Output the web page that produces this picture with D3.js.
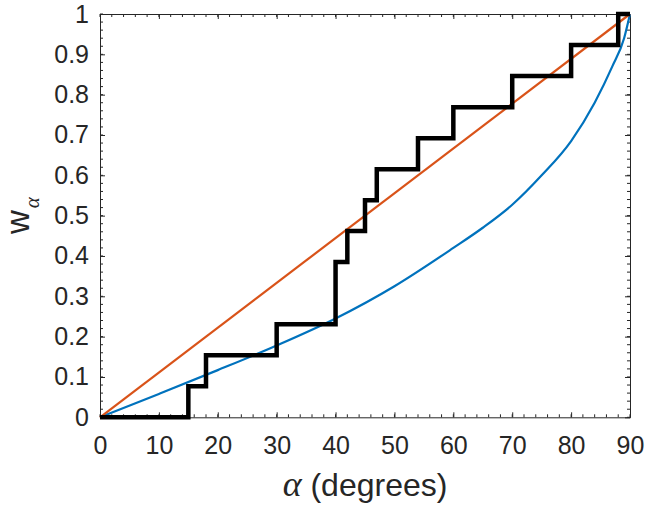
<!DOCTYPE html>
<html><head><meta charset="utf-8">
<script src="https://cdn.jsdelivr.net/npm/d3@7"></script>
<style>body{margin:0;background:#fff}svg{display:block}</style></head>
<body>
<svg id="c" width="647" height="505"></svg>
<script>
// ---- data ----
const xTicks = [0, 10, 20, 30, 40, 50, 60, 70, 80, 90];
const xTickLabels = ["0", "10", "20", "30", "40", "50", "60", "70", "80", "90"];
const yTicks = [0, 0.1, 0.2, 0.3, 0.4, 0.5, 0.6, 0.7, 0.8, 0.9, 1];
const yTickLabels = ["0", "0.1", "0.2", "0.3", "0.4", "0.5", "0.6", "0.7", "0.8", "0.9", "1"];

const blueAlpha = [0, 10, 20, 30, 40, 50, 60, 65, 70, 75, 80, 84, 87, 89, 90];
const blueW     = [0, 0.058, 0.117, 0.178, 0.245, 0.325, 0.420, 0.470, 0.527, 0.600, 0.685, 0.780, 0.870, 0.940, 1.0];

const redAlpha = [0, 90];
const redW     = [0, 1];

const stepAlpha = [0, 15, 18, 30, 40, 42, 45, 47, 54, 60, 70, 80, 88, 90];
const stepW     = [0, 0.077, 0.154, 0.231, 0.385, 0.462, 0.538, 0.615, 0.692, 0.769, 0.846, 0.923, 1.0, 1.0];

// ---- layout ----
const L = 100, R = 630, T = 14, B = 417.3;
const svg = d3.select("#c");
const x = d3.scaleLinear().domain([0, 90]).range([L, R]);
const y = d3.scaleLinear().domain([0, 1]).range([B, T]);
const axisCol = "#262626";
const font = "'Liberation Sans', Arial, Helvetica, sans-serif";
const serif = "'Liberation Serif', 'DejaVu Serif', serif";

const xMinor = d3.range(0, 91, 2);
const yMinor = d3.range(0, 51).map(i => i / 50);

function styleAxis(g) {
  g.select(".domain").attr("stroke", axisCol);
  g.selectAll(".tick line").attr("stroke", axisCol);
  g.selectAll("text").attr("fill", axisCol).style("font-family", font).style("font-size", "25px");
}
// bottom axis
svg.append("g").attr("transform", `translate(0,${B})`)
  .call(d3.axisBottom(x).tickValues(xTicks).tickFormat((d, i) => xTickLabels[i]).tickSizeInner(-5).tickSizeOuter(0).tickPadding(19))
  .call(styleAxis);
// top axis
svg.append("g").attr("transform", `translate(0,${T})`)
  .call(d3.axisTop(x).tickValues(xTicks).tickFormat("").tickSizeInner(-5).tickSizeOuter(0))
  .call(styleAxis);
// left axis
svg.append("g").attr("transform", `translate(${L},0)`)
  .call(d3.axisLeft(y).tickValues(yTicks).tickFormat((d, i) => yTickLabels[i]).tickSizeInner(-5).tickSizeOuter(0).tickPadding(11))
  .call(styleAxis);
// right axis
svg.append("g").attr("transform", `translate(${R},0)`)
  .call(d3.axisRight(y).tickValues(yTicks).tickFormat("").tickSizeInner(-5).tickSizeOuter(0))
  .call(styleAxis);

// minor ticks
const minor = svg.append("g").attr("stroke", axisCol).attr("stroke-width", 1);
xMinor.forEach(v => {
  minor.append("line").attr("x1", x(v)).attr("x2", x(v)).attr("y1", B).attr("y2", B - 3);
  minor.append("line").attr("x1", x(v)).attr("x2", x(v)).attr("y1", T).attr("y2", T + 3);
});
yMinor.forEach(v => {
  minor.append("line").attr("y1", y(v)).attr("y2", y(v)).attr("x1", L).attr("x2", L + 3);
  minor.append("line").attr("y1", y(v)).attr("y2", y(v)).attr("x1", R).attr("x2", R - 3);
});

// lines
svg.append("path").datum(blueAlpha.map((a, i) => [a, blueW[i]]))
  .attr("d", d3.line().x(d => x(d[0])).y(d => y(d[1])).curve(d3.curveMonotoneX)).attr("fill", "none")
  .attr("stroke", "#0072BD").attr("stroke-width", 2.2);
svg.append("path").datum(redAlpha.map((a, i) => [a, redW[i]]))
  .attr("d", d3.line().x(d => x(d[0])).y(d => y(d[1]))).attr("fill", "none")
  .attr("stroke", "#D95319").attr("stroke-width", 2.2);
svg.append("path").datum(stepAlpha.map((a, i) => [a, stepW[i]]))
  .attr("d", d3.line().x(d => x(d[0])).y(d => y(d[1])).curve(d3.curveStepAfter)).attr("fill", "none")
  .attr("stroke", "#000").attr("stroke-width", 4.5).attr("stroke-linejoin", "miter");

// x label
const xl = svg.append("text").attr("x", (L + R) / 2).attr("y", 496)
  .attr("text-anchor", "middle").attr("fill", axisCol).style("font-family", font).style("font-size", "32px");
xl.append("tspan").text("α").style("font-family", serif).style("font-style", "italic").style("font-size", "36px");
xl.append("tspan").text(" (degrees)");

// y label
const yl = svg.append("text").attr("transform", `translate(29,${(T + B) / 2}) rotate(-90)`)
  .attr("text-anchor", "middle").attr("fill", axisCol).style("font-family", font).style("font-size", "33px");
yl.append("tspan").text("w");
yl.append("tspan").text("α").attr("dy", 10).attr("dx", 2).style("font-size", "21px")
  .style("font-family", serif).style("font-style", "italic");
</script>
</body></html>
